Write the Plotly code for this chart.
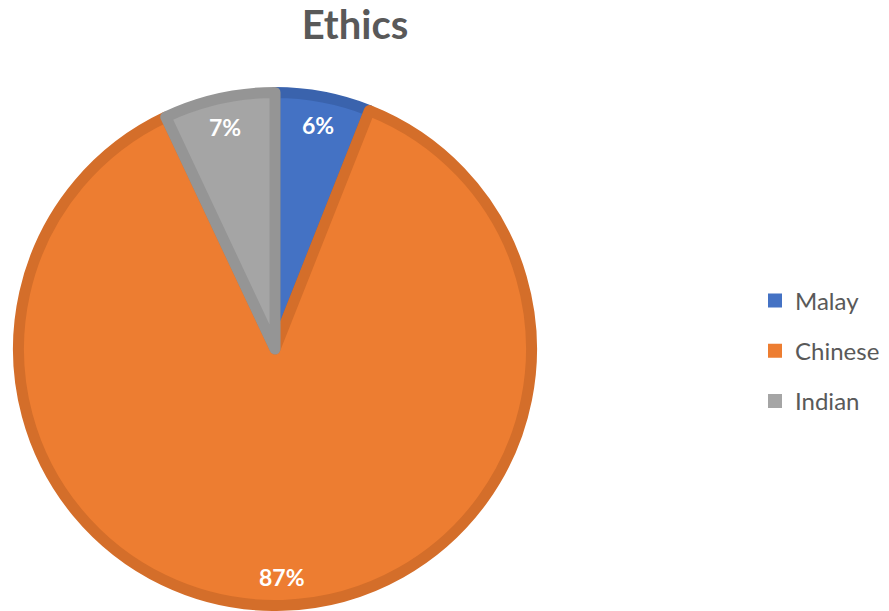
import math
import plotly.graph_objects as go

# Ethnic composition
categories = ["Malay", "Chinese", "Indian"]
values = [6, 87, 7]
fill_colors = ["#4472C4", "#ED7D31", "#A5A5A5"]
edge_colors = ["#3A63AD", "#D46E2A", "#959595"]

W, H = 889, 611
CX, CY = 275, 349          # pie centre in pixels
R_OUT = 262                # outer radius incl. border
EDGE = 11                  # border stroke width
R = R_OUT - EDGE / 2
FONT = "Lato, Open Sans, sans-serif"

fig = go.Figure()

fig.add_trace(go.Pie(
    labels=categories,
    values=values,
    sort=False,
    direction="clockwise",
    rotation=0,
    textinfo="none",
    hoverinfo="label+percent",
    showlegend=False,
    marker=dict(colors=fill_colors, line=dict(color=edge_colors, width=EDGE)),
    domain=dict(x=[(CX - R) / W, (CX + R) / W], y=[1 - (CY + R) / H, 1 - (CY - R) / H]),
))

# legend entries, one group each so they can be spaced apart
for name, col in zip(categories, fill_colors):
    fig.add_trace(go.Scatter(
        x=[None], y=[None], mode="markers", name=name, legendgroup=name,
        marker=dict(symbol="square", size=14, color=col),
    ))

# percentage labels placed at the middle angle of each slice
total = sum(values)
start = 0.0
for v in values:
    frac = v / total
    mid = (start + frac / 2) * 2 * math.pi
    r_lab = 0.87 * R_OUT
    px = CX + r_lab * math.sin(mid)
    py = CY - r_lab * math.cos(mid)
    fig.add_annotation(
        x=px / W, y=1 - py / H, xref="paper", yref="paper",
        xanchor="center", yanchor="middle",
        text=f"<b>{round(frac * 100)}%</b>", showarrow=False,
        font=dict(family=FONT, size=23, color="#FFFFFF"),
    )
    start += frac

fig.update_layout(
    width=W, height=H,
    margin=dict(l=0, r=0, t=0, b=0),
    paper_bgcolor="white", plot_bgcolor="white",
    title=dict(
        text="<b>Ethics</b>", x=355 / W, xanchor="center", y=1 - 25 / H, yanchor="middle",
        font=dict(family=FONT, size=40, color="#595959"),
    ),
    xaxis=dict(visible=False), yaxis=dict(visible=False),
    legend=dict(
        x=755 / W, xanchor="left", y=1 - 351 / H, yanchor="middle",
        traceorder="grouped", tracegroupgap=16,
        font=dict(family=FONT, size=24, color="#595959"),
        bgcolor="rgba(0,0,0,0)",
    ),
    showlegend=True,
)

fig.write_html("out.html")
